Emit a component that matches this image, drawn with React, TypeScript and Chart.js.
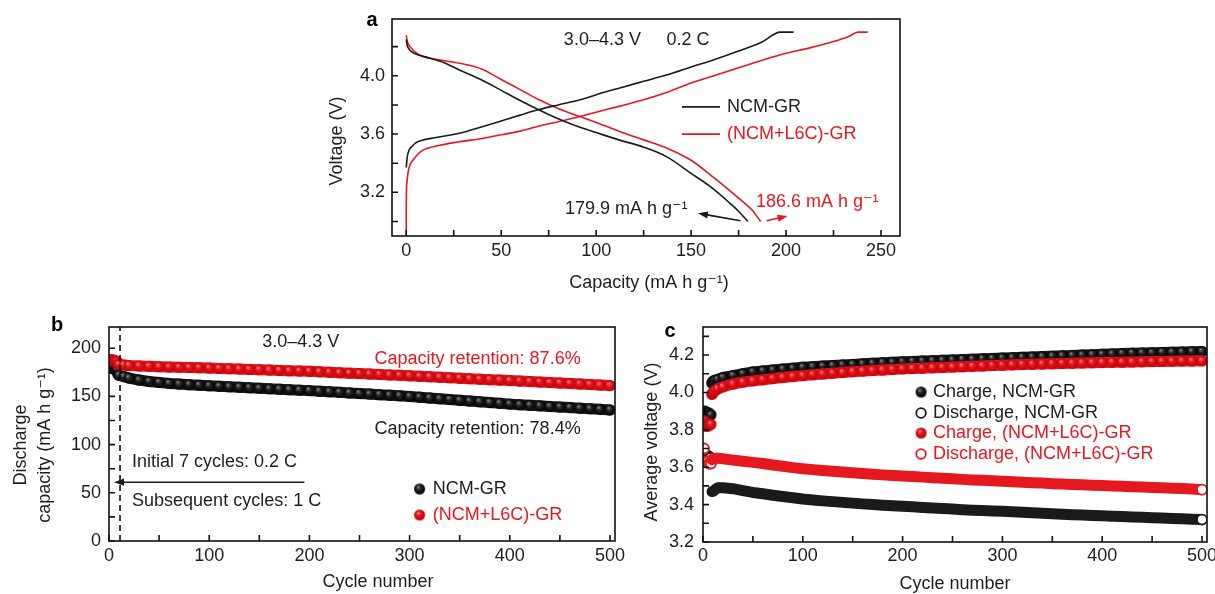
import React, { useEffect, useRef } from 'react';
import { Chart, registerables } from 'chart.js';

Chart.register(...registerables);

const FONT = '"Liberation Sans", Arial, Helvetica, "DejaVu Sans", sans-serif';
const BLACK = '#1a1a1a';
const RED = '#e5171f';
const TEXT = '#1e1e1e';

// ---------- Panel a: voltage profiles (capacity mA h g-1 / voltage V)
const capChargeNcm = [0, 0.5, 1.5, 3, 5, 8, 15, 28, 40, 50, 60, 70, 80, 91.5, 100, 112, 125, 137, 150, 162, 175, 187, 197, 204];
const voltChargeNcm = [3.37, 3.44, 3.49, 3.515, 3.54, 3.556, 3.575, 3.605, 3.65, 3.69, 3.73, 3.768, 3.8, 3.835, 3.87, 3.915, 3.962, 4.005, 4.06, 4.11, 4.17, 4.23, 4.3, 4.3];
const capDischargeNcm = [0, 0.5, 2, 5, 10, 20, 28, 40, 50, 60, 70, 80, 91.5, 100, 112, 125, 137, 150, 160, 170, 175, 179.9];
const voltDischargeNcm = [4.25, 4.21, 4.175, 4.15, 4.13, 4.09, 4.04, 3.97, 3.9, 3.83, 3.765, 3.705, 3.646, 3.61, 3.56, 3.51, 3.445, 3.33, 3.24, 3.13, 3.07, 3.0];
const capChargeL6c = [0, 0.02, 0.3, 1, 2, 3.5, 6, 8.8, 15, 28, 40, 50, 60, 70, 80, 91.5, 100, 112, 125, 137, 150, 162, 175, 187, 200, 212, 225, 233, 238, 243];
const voltChargeL6c = [2.9, 3.1, 3.26, 3.34, 3.39, 3.42, 3.46, 3.49, 3.515, 3.547, 3.57, 3.595, 3.62, 3.655, 3.685, 3.72, 3.75, 3.79, 3.835, 3.885, 3.95, 4.0, 4.055, 4.105, 4.155, 4.19, 4.235, 4.27, 4.3, 4.3];
const capDischargeL6c = [0, 0.5, 2, 7, 15, 28, 40, 50, 60, 70, 80, 91.5, 100, 112, 125, 137, 150, 162, 175, 182, 186.6];
const voltDischargeL6c = [4.28, 4.24, 4.2, 4.143, 4.115, 4.086, 4.045, 3.975, 3.905, 3.835, 3.775, 3.72, 3.68, 3.62, 3.56, 3.505, 3.42, 3.3, 3.16, 3.08, 3.0];

// ---------- Panel b: discharge capacity vs cycle
const cyclesB = [1, 2, 3, 4, 5, 6, 7, 8, 9, 10, 15, 20, 30, 40, 50, 60, 70, 80, 90, 100, 110, 120, 130, 140, 150, 160, 170, 180, 190, 200, 210, 220, 230, 240, 250, 260, 270, 280, 290, 300, 310, 320, 330, 340, 350, 360, 370, 380, 390, 400, 410, 420, 430, 440, 450, 460, 470, 480, 490, 500];
const capacityNcmB = [181, 180, 179.5, 179, 178.5, 178, 177.5, 176, 173, 172, 170.5, 169, 167, 165.5, 164.5, 163.5, 162.8, 162.2, 161.6, 161, 160.5, 160, 159.5, 159, 158.5, 158, 157.5, 157, 156.5, 156, 155.4, 154.8, 154.2, 153.6, 153, 152.4, 151.8, 151.2, 150.6, 150, 149.2, 148.4, 147.6, 146.8, 146, 145.2, 144.4, 143.6, 142.8, 142, 141.4, 140.8, 140.2, 139.6, 139, 138.4, 137.8, 137.2, 136.6, 136];
const capacityL6cB = [187, 188, 188, 187.5, 187, 187, 186.5, 186, 184, 183, 182.5, 182, 181.6, 181.2, 180.8, 180.5, 180.2, 180, 179.7, 179.4, 179, 178.7, 178.4, 178, 177.7, 177.3, 177, 176.6, 176.3, 176, 175.5, 175, 174.6, 174.1, 173.7, 173.2, 172.8, 172.3, 171.9, 171.4, 170.9, 170.4, 169.9, 169.4, 168.9, 168.4, 167.9, 167.4, 166.9, 166.4, 165.9, 165.4, 164.9, 164.4, 163.9, 163.4, 162.9, 162.4, 161.8, 161.2];

// ---------- Panel c: average voltage vs cycle
const cyclesCInit = [1, 2, 3, 4, 5, 6, 7, 8];
const chargeNcmInit = [3.9, 3.9, 3.89, 3.89, 3.89, 3.89, 3.88, 3.88];
const dischargeNcmInit = [3.67, 3.66, 3.66, 3.66, 3.66, 3.65, 3.65, 3.65];
const chargeL6cInit = [3.85, 3.83, 3.82, 3.82, 3.82, 3.83, 3.83, 3.83];
const dischargeL6cInit = [3.7, 3.63, 3.63, 3.63, 3.63, 3.62, 3.62, 3.62];

const cyclesC = [9, 10, 12, 15, 20, 30, 40, 50, 60, 70, 80, 90, 100, 110, 120, 130, 140, 150, 160, 170, 180, 190, 200, 210, 220, 230, 240, 250, 260, 270, 280, 290, 300, 310, 320, 330, 340, 350, 360, 370, 380, 390, 400, 410, 420, 430, 440, 450, 460, 470, 480, 490, 500];
const chargeNcmC = [4.05, 4.06, 4.065, 4.07, 4.08, 4.09, 4.1, 4.11, 4.115, 4.12, 4.125, 4.13, 4.135, 4.138, 4.141, 4.144, 4.147, 4.15, 4.153, 4.156, 4.159, 4.161, 4.164, 4.166, 4.168, 4.17, 4.172, 4.174, 4.176, 4.178, 4.18, 4.182, 4.184, 4.186, 4.188, 4.19, 4.192, 4.194, 4.196, 4.198, 4.2, 4.202, 4.204, 4.206, 4.208, 4.21, 4.211, 4.212, 4.214, 4.215, 4.216, 4.218, 4.219];
const chargeL6cC = [3.99, 4.0, 4.01, 4.02, 4.03, 4.045, 4.055, 4.062, 4.068, 4.074, 4.08, 4.085, 4.09, 4.095, 4.099, 4.103, 4.107, 4.111, 4.114, 4.117, 4.12, 4.123, 4.126, 4.128, 4.13, 4.132, 4.134, 4.136, 4.138, 4.14, 4.142, 4.144, 4.146, 4.148, 4.15, 4.151, 4.152, 4.154, 4.155, 4.156, 4.158, 4.159, 4.16, 4.161, 4.162, 4.163, 4.164, 4.165, 4.166, 4.167, 4.168, 4.168, 4.169];
const dischargeNcmC = [3.47, 3.47, 3.48, 3.49, 3.49, 3.485, 3.475, 3.465, 3.458, 3.45, 3.443, 3.437, 3.43, 3.425, 3.42, 3.416, 3.412, 3.408, 3.404, 3.4, 3.397, 3.394, 3.391, 3.388, 3.385, 3.382, 3.379, 3.376, 3.373, 3.37, 3.368, 3.366, 3.364, 3.362, 3.359, 3.357, 3.354, 3.351, 3.348, 3.346, 3.344, 3.342, 3.34, 3.338, 3.336, 3.334, 3.332, 3.33, 3.328, 3.326, 3.324, 3.322, 3.32];
const dischargeL6cC = [3.64, 3.645, 3.648, 3.648, 3.645, 3.638, 3.632, 3.626, 3.62, 3.612, 3.605, 3.598, 3.592, 3.587, 3.582, 3.578, 3.574, 3.57, 3.566, 3.562, 3.559, 3.556, 3.553, 3.55, 3.547, 3.544, 3.541, 3.538, 3.535, 3.532, 3.53, 3.528, 3.525, 3.522, 3.52, 3.517, 3.515, 3.512, 3.51, 3.508, 3.506, 3.504, 3.502, 3.5, 3.498, 3.496, 3.494, 3.492, 3.49, 3.488, 3.486, 3.483, 3.48];

// ---------- helpers
const pts = (xs: number[], ys: number[]) => xs.map((x, i) => ({ x, y: ys[i] }));
const isMult = (v: number, m: number) => Math.abs(v / m - Math.round(v / m)) < 1e-6;

function makeBall(r: number, light: string, base: string, dark: string) {
  const c = document.createElement('canvas');
  const s = Math.ceil(r * 2 + 2);
  c.width = s;
  c.height = s;
  const g = c.getContext('2d')!;
  const cx = s / 2, cy = s / 2;
  const grad = g.createRadialGradient(cx - r * 0.3, cy - r * 0.4, r * 0.05, cx, cy, r);
  grad.addColorStop(0, light);
  grad.addColorStop(0.4, base);
  grad.addColorStop(1, dark);
  g.fillStyle = grad;
  g.beginPath();
  g.arc(cx, cy, r, 0, Math.PI * 2);
  g.fill();
  return c;
}

function axis(min: number, max: number, step: number, labelEvery: number, dec: number, key: 'width' | 'height', size: number, pad: number) {
  return {
    type: 'linear',
    min,
    max,
    grid: { display: false, drawTicks: false },
    border: { display: false },
    ticks: {
      stepSize: step,
      includeBounds: false,
      autoSkip: false,
      maxRotation: 0,
      minRotation: 0,
      padding: pad,
      color: TEXT,
      font: { family: FONT, size: 18 },
      callback: (v: number) => (isMult(v, labelEvery) ? Number(v).toFixed(dec) : ''),
    },
    afterFit: (s: any) => {
      s[key] = size;
      s.paddingLeft = 0;
      s.paddingRight = 0;
      s.paddingTop = 0;
      s.paddingBottom = 0;
    },
  };
}

function txt(ctx: CanvasRenderingContext2D, s: string, x: number, y: number, color = TEXT, align: CanvasTextAlign = 'left', size = 18, weight = 'normal') {
  ctx.save();
  ctx.font = `${weight} ${size}px ${FONT}`;
  ctx.fillStyle = color;
  ctx.textAlign = align;
  ctx.textBaseline = 'middle';
  ctx.fillText(s, x, y);
  ctx.restore();
}

function vtxt(ctx: CanvasRenderingContext2D, s: string, x: number, y: number) {
  ctx.save();
  ctx.translate(x, y);
  ctx.rotate(-Math.PI / 2);
  ctx.font = `18px ${FONT}`;
  ctx.fillStyle = TEXT;
  ctx.textAlign = 'center';
  ctx.textBaseline = 'middle';
  ctx.fillText(s, 0, 0);
  ctx.restore();
}

function arrow(ctx: CanvasRenderingContext2D, x1: number, y1: number, x2: number, y2: number, color: string) {
  const ang = Math.atan2(y2 - y1, x2 - x1);
  const hl = 10, hw = 3.6;
  ctx.save();
  ctx.strokeStyle = color;
  ctx.fillStyle = color;
  ctx.lineWidth = 1.6;
  ctx.beginPath();
  ctx.moveTo(x1, y1);
  ctx.lineTo(x2 - Math.cos(ang) * hl * 0.8, y2 - Math.sin(ang) * hl * 0.8);
  ctx.stroke();
  ctx.beginPath();
  ctx.moveTo(x2, y2);
  ctx.lineTo(x2 - Math.cos(ang) * hl - Math.sin(ang) * hw, y2 - Math.sin(ang) * hl + Math.cos(ang) * hw);
  ctx.lineTo(x2 - Math.cos(ang) * hl + Math.sin(ang) * hw, y2 - Math.sin(ang) * hl - Math.cos(ang) * hw);
  ctx.closePath();
  ctx.fill();
  ctx.restore();
}

function frame(chart: any, xStep: number, yStep: number) {
  const { ctx, chartArea: a, scales } = chart;
  ctx.save();
  ctx.strokeStyle = '#111';
  ctx.lineWidth = 1.6;
  const tl = 6;
  ctx.beginPath();
  for (const t of scales.x.ticks) {
    if (!isMult(t.value, xStep)) continue;
    const px = scales.x.getPixelForValue(t.value);
    ctx.moveTo(px, a.bottom);
    ctx.lineTo(px, a.bottom - tl);
  }
  for (const t of scales.y.ticks) {
    if (!isMult(t.value, yStep)) continue;
    const py = scales.y.getPixelForValue(t.value);
    ctx.moveTo(a.left, py);
    ctx.lineTo(a.left + tl, py);
  }
  ctx.stroke();
  ctx.strokeRect(a.left, a.top, a.right - a.left, a.bottom - a.top);
  ctx.restore();
}

const baseOptions = (padding: any, x: any, y: any) => ({
  animation: false,
  responsive: false,
  events: [],
  layout: { padding },
  plugins: { legend: { display: false }, tooltip: { enabled: false } },
  scales: { x, y },
});

// ---------- Panel a config
function makeA(): any {
  const line = (xs: number[], ys: number[], color: string) => ({
    data: pts(xs, ys),
    showLine: true,
    borderColor: color,
    borderWidth: 1.6,
    pointRadius: 0,
    cubicInterpolationMode: 'monotone',
  });
  return {
    type: 'scatter',
    data: {
      datasets: [
        line(capChargeNcm, voltChargeNcm, BLACK),
        line(capDischargeNcm, voltDischargeNcm, BLACK),
        line(capChargeL6c, voltChargeL6c, RED),
        line(capDischargeL6c, voltDischargeL6c, RED),
      ],
    },
    options: baseOptions(
      { left: 0, top: 19, right: 20, bottom: 0 },
      axis(-7.5, 260, 25, 50, 0, 'height', 64, 4),
      axis(2.9, 4.39, 0.2, 0.4, 1, 'width', 72, 7)
    ),
    plugins: [
      {
        id: 'decoA',
        afterDraw(chart: any) {
          const { ctx, scales } = chart;
          const X = (v: number) => scales.x.getPixelForValue(v);
          const Y = (v: number) => scales.y.getPixelForValue(v);
          frame(chart, 25, 0.2);
          txt(ctx, 'a', 52, 20, '#000', 'center', 20, 'bold');
          vtxt(ctx, 'Voltage (V)', 17, 141);
          txt(ctx, 'Capacity (mA h g\u207B\u00B9)', 329, 283, TEXT, 'center');
          txt(ctx, '3.0\u20134.3 V', X(83), Y(4.246));
          txt(ctx, '0.2 C', X(137), Y(4.246));
          // legend
          ctx.save();
          ctx.lineWidth = 1.8;
          ctx.strokeStyle = BLACK;
          ctx.beginPath();
          ctx.moveTo(X(145.2), Y(3.786));
          ctx.lineTo(X(165.2), Y(3.786));
          ctx.stroke();
          ctx.strokeStyle = RED;
          ctx.beginPath();
          ctx.moveTo(X(145.2), Y(3.6));
          ctx.lineTo(X(165.2), Y(3.6));
          ctx.stroke();
          ctx.restore();
          txt(ctx, 'NCM-GR', X(168.9), Y(3.786));
          txt(ctx, '(NCM+L6C)-GR', X(168.9), Y(3.6), RED);
          // capacity annotations
          txt(ctx, '179.9 mA h g\u207B\u00B9', X(83.6), Y(3.085));
          arrow(ctx, X(176), Y(3.005), X(153.6), Y(3.056), BLACK);
          txt(ctx, '186.6 mA h g\u207B\u00B9', X(184.2), Y(3.133), RED);
          arrow(ctx, X(189.8), Y(3.005), X(200.8), Y(3.037), RED);
        },
      },
    ],
  };
}

// ---------- Panel b config
function makeB(): any {
  const blackBall = makeBall(5.5, '#8a8a8a', '#242424', '#000');
  const redBall = makeBall(5.5, '#ff8c8c', RED, '#c0000a');
  const band = (ys: number[], color: string, ball: any, order: number) => ({
    data: pts(cyclesB, ys),
    showLine: true,
    borderColor: color,
    borderWidth: 11,
    borderCapStyle: 'round',
    borderJoinStyle: 'round',
    pointStyle: ball,
    pointRadius: 5.5,
    order,
  });
  return {
    type: 'scatter',
    data: {
      datasets: [band(capacityL6cB, RED, redBall, 0), band(capacityNcmB, BLACK, blackBall, 1)],
    },
    options: baseOptions(
      { left: 0, top: 17, right: 25, bottom: 0 },
      axis(0, 505, 50, 100, 0, 'height', 53, 4),
      axis(0, 222, 25, 50, 0, 'width', 109, 8)
    ),
    plugins: [
      {
        id: 'decoB',
        afterDraw(chart: any) {
          const { ctx, scales, chartArea: a } = chart;
          const X = (v: number) => scales.x.getPixelForValue(v);
          const Y = (v: number) => scales.y.getPixelForValue(v);
          frame(chart, 50, 25);
          txt(ctx, 'b', 57, 15, '#000', 'center', 20, 'bold');
          vtxt(ctx, 'Discharge', 21, 135);
          vtxt(ctx, 'capacity (mA h g\u207B\u00B9)', 45, 135);
          txt(ctx, 'Cycle number', 378, 272, TEXT, 'center');
          // dashed separator
          ctx.save();
          ctx.strokeStyle = '#111';
          ctx.lineWidth = 1.6;
          ctx.setLineDash([6, 4]);
          ctx.beginPath();
          ctx.moveTo(X(11), a.bottom);
          ctx.lineTo(X(11), a.top);
          ctx.stroke();
          ctx.restore();
          txt(ctx, '3.0\u20134.3 V', X(153), Y(206));
          txt(ctx, 'Capacity retention: 87.6%', X(265), Y(188.8), RED);
          txt(ctx, 'Capacity retention: 78.4%', X(265), Y(116));
          txt(ctx, 'Initial 7 cycles: 0.2 C', X(23), Y(82));
          arrow(ctx, X(195), Y(61), X(5), Y(61), BLACK);
          txt(ctx, 'Subsequent cycles: 1 C', X(23), Y(41.5));
          // legend
          ctx.drawImage(blackBall, X(310) - blackBall.width / 2, Y(54) - blackBall.height / 2);
          ctx.drawImage(redBall, X(310) - redBall.width / 2, Y(27) - redBall.height / 2);
          txt(ctx, 'NCM-GR', X(323), Y(54));
          txt(ctx, '(NCM+L6C)-GR', X(323), Y(27), RED);
        },
      },
    ],
  };
}

// ---------- Panel c config
function makeC(): any {
  const blackBall = makeBall(5.5, '#8a8a8a', '#242424', '#000');
  const redBall = makeBall(5.5, '#ff8c8c', RED, '#c0000a');
  const filledBand = (ys: number[], color: string, ball: any, order: number) => ({
    data: pts(cyclesC, ys),
    showLine: true,
    borderColor: color,
    borderWidth: 11,
    borderCapStyle: 'round',
    borderJoinStyle: 'round',
    pointStyle: ball,
    pointRadius: 5.5,
    order,
  });
  const openBand = (ys: number[], color: string, order: number) => ({
    data: pts(cyclesC, ys),
    showLine: true,
    borderColor: color,
    borderWidth: 11,
    borderCapStyle: 'round',
    borderJoinStyle: 'round',
    pointStyle: 'circle',
    pointRadius: (c: any) => (c.dataIndex === ys.length - 1 ? 5 : 0),
    pointBackgroundColor: '#ffffff',
    pointBorderColor: color,
    pointBorderWidth: 1.8,
    order,
  });
  const initFilled = (ys: number[], ball: any, order: number) => ({
    data: pts(cyclesCInit, ys),
    showLine: false,
    pointStyle: ball,
    pointRadius: 5.5,
    order,
  });
  const initOpen = (ys: number[], color: string, order: number) => ({
    data: pts(cyclesCInit, ys),
    showLine: false,
    pointStyle: 'circle',
    pointRadius: 5,
    pointBackgroundColor: '#ffffff',
    pointBorderColor: color,
    pointBorderWidth: 1.8,
    order,
  });
  return {
    type: 'scatter',
    data: {
      datasets: [
        filledBand(chargeL6cC, RED, redBall, 0),
        filledBand(chargeNcmC, BLACK, blackBall, 1),
        openBand(dischargeL6cC, RED, 2),
        openBand(dischargeNcmC, BLACK, 3),
        initFilled(chargeL6cInit, redBall, 4),
        initFilled(chargeNcmInit, blackBall, 5),
        initOpen(dischargeL6cInit, RED, 6),
        initOpen(dischargeNcmInit, BLACK, 7),
      ],
    },
    options: baseOptions(
      { left: 0, top: 17, right: 23, bottom: 0 },
      axis(0, 505, 50, 100, 0, 'height', 52, 3),
      axis(3.2, 4.35, 0.1, 0.2, 1, 'width', 83, 9)
    ),
    plugins: [
      {
        id: 'decoC',
        afterDraw(chart: any) {
          const { ctx, scales } = chart;
          const X = (v: number) => scales.x.getPixelForValue(v);
          const Y = (v: number) => scales.y.getPixelForValue(v);
          frame(chart, 50, 0.1);
          txt(ctx, 'c', 50, 21, '#000', 'center', 20, 'bold');
          vtxt(ctx, 'Average voltage (V)', 32, 132);
          txt(ctx, 'Cycle number', 335, 274, TEXT, 'center');
          // legend
          const mx = X(218.5), tx = X(230.5);
          const rows = [4.002, 3.89, 3.783, 3.671];
          ctx.drawImage(blackBall, mx - blackBall.width / 2, Y(rows[0]) - blackBall.height / 2);
          ctx.drawImage(redBall, mx - redBall.width / 2, Y(rows[2]) - redBall.height / 2);
          ctx.save();
          ctx.lineWidth = 1.8;
          ctx.fillStyle = '#fff';
          ctx.strokeStyle = BLACK;
          ctx.beginPath();
          ctx.arc(mx, Y(rows[1]), 4.8, 0, Math.PI * 2);
          ctx.fill();
          ctx.stroke();
          ctx.strokeStyle = RED;
          ctx.beginPath();
          ctx.arc(mx, Y(rows[3]), 4.8, 0, Math.PI * 2);
          ctx.fill();
          ctx.stroke();
          ctx.restore();
          txt(ctx, 'Charge, NCM-GR', tx, Y(rows[0]));
          txt(ctx, 'Discharge, NCM-GR', tx, Y(rows[1]));
          txt(ctx, 'Charge, (NCM+L6C)-GR', tx, Y(rows[2]), RED);
          txt(ctx, 'Discharge, (NCM+L6C)-GR', tx, Y(rows[3]), RED);
        },
      },
    ],
  };
}

function ChartBox({ make, left, top, width, height }: { make: () => any; left: number; top: number; width: number; height: number }) {
  const ref = useRef<HTMLCanvasElement>(null);
  useEffect(() => {
    const chart = new Chart(ref.current as HTMLCanvasElement, make());
    return () => chart.destroy();
  }, []);
  return <canvas ref={ref} width={width} height={height} style={{ position: 'absolute', left, top, width, height }} />;
}

export default function App() {
  Chart.defaults.font.family = FONT;
  Chart.defaults.color = TEXT;
  return (
    <div style={{ position: 'fixed', left: 0, top: 0, width: 1215, height: 594, background: '#fff', overflow: 'hidden' }}>
      <ChartBox make={makeA} left={320} top={0} width={600} height={300} />
      <ChartBox make={makeB} left={0} top={310} width={640} height={284} />
      <ChartBox make={makeC} left={620} top={310} width={610} height={284} />
    </div>
  );
}
